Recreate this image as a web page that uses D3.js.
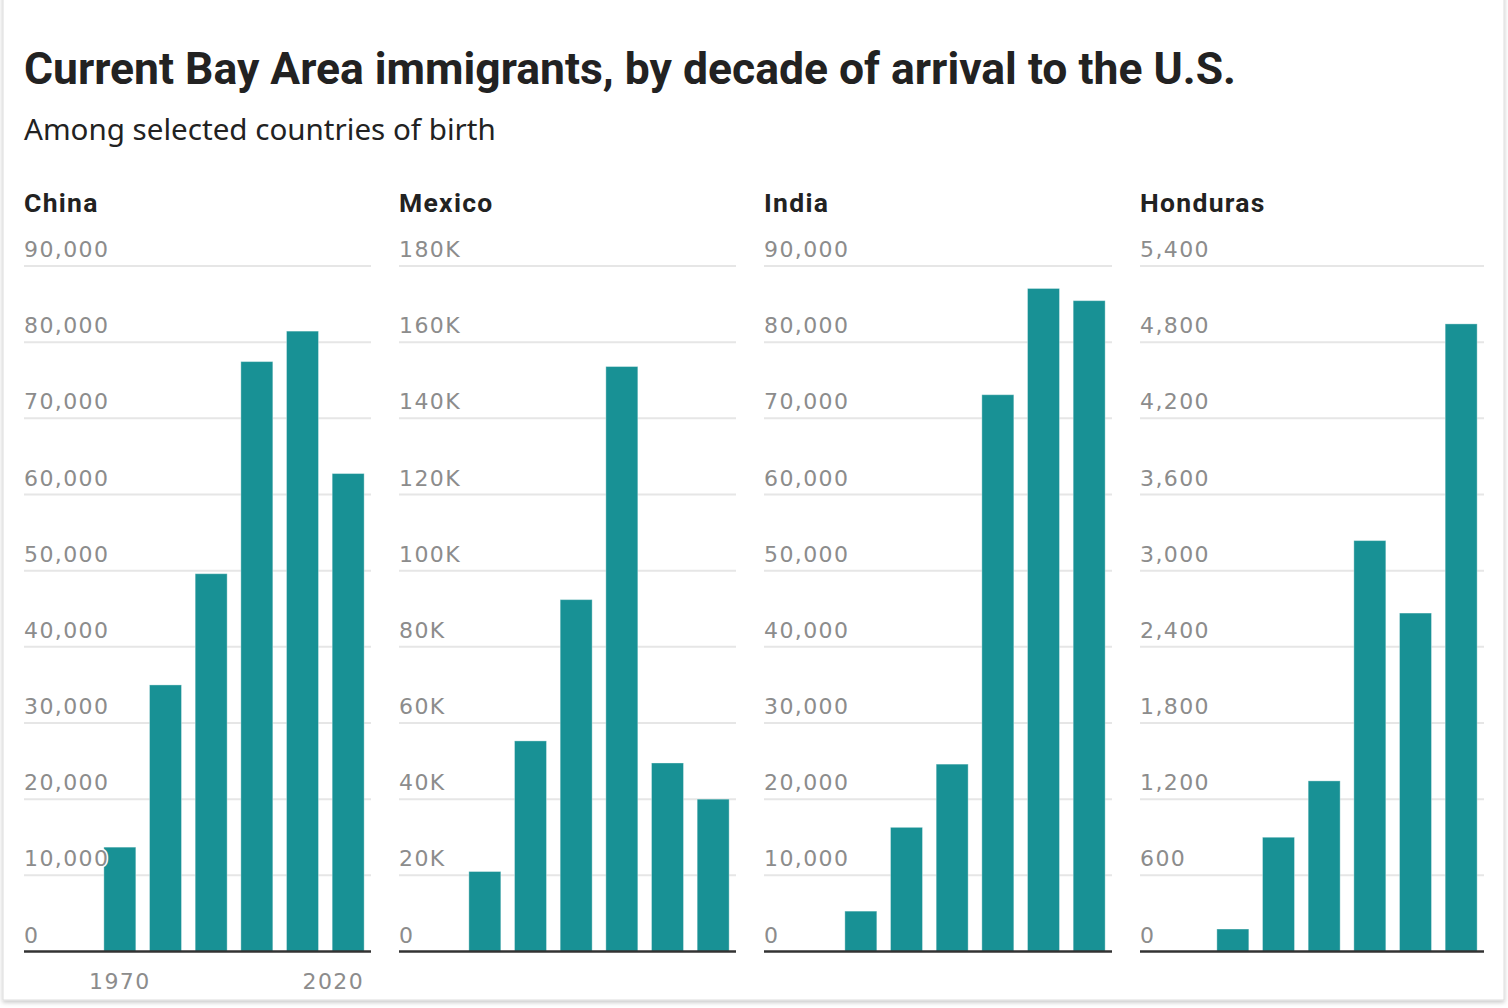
<!DOCTYPE html>
<html>
<head>
<meta charset="utf-8">
<script src="https://cdn.jsdelivr.net/npm/d3@7.9.0/dist/d3.min.js"></script>
<style>
  html, body { margin: 0; padding: 0; background: #fff; }
  svg { display: block; }
  .tick-label { font-family: "DejaVu Sans", sans-serif; font-size: 22px; letter-spacing: 1.4px; fill: #8c8c8c; }
</style>
</head>
<body>
<svg id="chart" width="1508" height="1008"></svg>
<script>
// Data
const countries = ['China', 'Mexico', 'India', 'Honduras'];
const decades = ['1970', '1980', '1990', '2000', '2010', '2020'];
const chinaValues = [13700, 35000, 49600, 77450, 81450, 62750];
const mexicoValues = [21000, 55300, 92400, 153600, 49500, 40000];
const indiaValues = [5300, 16300, 24600, 73100, 87050, 85450];
const hondurasValues = [177, 900, 1344, 3237, 2666, 4944];
const seriesValues = [chinaValues, mexicoValues, indiaValues, hondurasValues];

// Axis settings per panel
const yMaxes = [90000, 180000, 90000, 5400];
const tickSteps = [10000, 20000, 10000, 600];
const tickFormats = ['comma', 'K', 'comma', 'comma'];
const xTickLabels = ['1970', '2020'];

// Layout
const panelLeft = [24, 399, 764, 1140];
const panelRight = [371, 736, 1112, 1484];
const yTop = 266, yBottom = 951.5;
const barBlock = 274;   // width taken by the six bars
const barColor = '#189195';

const svg = d3.select('#chart');

// Card with light border + shadow
const defs = svg.append('defs');
const shadow = defs.append('filter').attr('id', 'shadow')
  .attr('x', '-5%').attr('y', '-5%').attr('width', '110%').attr('height', '110%');
shadow.append('feDropShadow').attr('dx', 0).attr('dy', 2).attr('stdDeviation', 2)
  .attr('flood-color', '#000').attr('flood-opacity', 0.22);

svg.append('rect')
  .attr('x', 3).attr('y', -20).attr('width', 1501).attr('height', 1020)
  .attr('fill', '#fff').attr('stroke', '#dcdcdc').attr('stroke-width', 1)
  .attr('filter', 'url(#shadow)');

// Helper: shrink/grow font so text spans a given width
function fitWidth(sel, width) {
  const node = sel.node();
  const size = parseFloat(sel.attr('font-size'));
  const len = node.getComputedTextLength();
  if (len > 0) sel.attr('font-size', size * width / len);
}

// Title + subtitle
const title = svg.append('text')
  .attr('x', 24).attr('y', 84)
  .attr('font-family', 'Roboto, "Noto Sans", sans-serif')
  .attr('font-weight', 700).attr('font-size', 42)
  .attr('fill', '#222')
  .text('Current Bay Area immigrants, by decade of arrival to the U.S.');
fitWidth(title, 1212);

const subtitle = svg.append('text')
  .attr('x', 24).attr('y', 140)
  .attr('font-family', '"Noto Sans", Roboto, sans-serif')
  .attr('font-size', 29)
  .attr('fill', '#222')
  .text('Among selected countries of birth');
fitWidth(subtitle, 472);

const kFormat = (d) => d === 0 ? '0' : d3.format('~s')(d).toUpperCase();
const commaFormat = d3.format(',');

countries.forEach((country, i) => {
  const left = panelLeft[i], right = panelRight[i];
  const values = seriesValues[i];
  const g = svg.append('g');

  // panel title
  g.append('text')
    .attr('x', left).attr('y', 212)
    .attr('font-family', 'Roboto, "Noto Sans", sans-serif')
    .attr('font-weight', 700).attr('font-size', 26.5)
    .attr('letter-spacing', 1.3)
    .attr('fill', '#222')
    .text(country);

  const y = d3.scaleLinear().domain([0, yMaxes[i]]).range([yBottom, yTop]);
  const x = d3.scaleBand().domain(decades)
    .range([right - barBlock, right])
    .paddingInner(0.3).paddingOuter(0.15);

  const ticks = d3.range(0, yMaxes[i] + 1, tickSteps[i]);
  const fmt = tickFormats[i] === 'K' ? kFormat : commaFormat;

  // gridlines
  g.selectAll('line.grid')
    .data(ticks.filter((t) => t > 0))
    .join('line')
    .attr('class', 'grid')
    .attr('x1', left).attr('x2', right)
    .attr('y1', (d) => y(d)).attr('y2', (d) => y(d))
    .attr('stroke', '#e6e6e6').attr('stroke-width', 2);

  // bars
  g.selectAll('rect.bar')
    .data(values)
    .join('rect')
    .attr('class', 'bar')
    .attr('x', (d, j) => x(decades[j]))
    .attr('width', x.bandwidth())
    .attr('y', (d) => y(d))
    .attr('height', (d) => y(0) - y(d))
    .attr('fill', barColor)
    .attr('stroke', 'rgba(255,255,255,0.35)').attr('stroke-width', 1);

  // baseline
  g.append('line')
    .attr('x1', left).attr('x2', right)
    .attr('y1', yBottom).attr('y2', yBottom)
    .attr('stroke', '#333').attr('stroke-width', 2.5);

  // y tick labels (drawn above bars with white halo)
  g.selectAll('text.tick-label')
    .data(ticks)
    .join('text')
    .attr('class', 'tick-label')
    .attr('x', left)
    .attr('y', (d) => y(d) - 9)
    .attr('stroke', '#fff').attr('stroke-width', 3)
    .attr('paint-order', 'stroke')
    .text(fmt);

  // x labels on the first panel only
  if (i === 0) {
    g.append('text')
      .attr('class', 'tick-label')
      .attr('x', x(xTickLabels[0]) + x.bandwidth() / 2)
      .attr('y', 989)
      .attr('text-anchor', 'middle')
      .text(xTickLabels[0]);
    g.append('text')
      .attr('class', 'tick-label')
      .attr('x', x(xTickLabels[1]) + x.bandwidth())
      .attr('y', 989)
      .attr('text-anchor', 'end')
      .text(xTickLabels[1]);
  }
});
</script>
</body>
</html>
